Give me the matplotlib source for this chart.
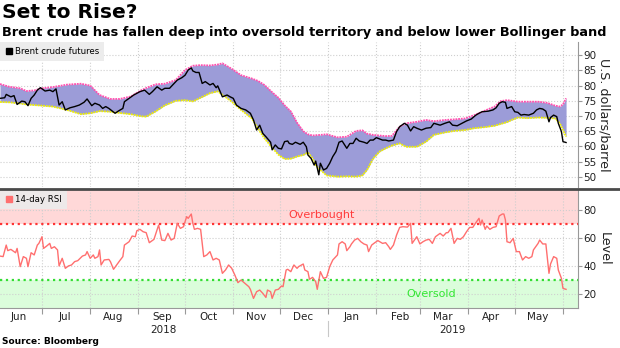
import matplotlib
matplotlib.use("Agg")
import matplotlib.pyplot as plt
import matplotlib.dates as mdates
import matplotlib.ticker as mticker
from matplotlib.lines import Line2D
import pandas as pd

# Brent crude futures (USD/bbl)
price_dates = [
    "2018-06-04", "2018-06-07", "2018-06-08", "2018-06-11", "2018-06-13", "2018-06-15", "2018-06-18",
    "2018-06-20", "2018-06-22", "2018-06-24", "2018-06-26", "2018-06-28", "2018-06-30", "2018-07-03",
    "2018-07-06", "2018-07-08", "2018-07-10", "2018-07-12", "2018-07-14", "2018-07-16", "2018-07-19",
    "2018-07-22", "2018-07-25", "2018-07-28", "2018-07-30", "2018-08-02", "2018-08-04", "2018-08-07",
    "2018-08-09", "2018-08-11", "2018-08-13", "2018-08-17", "2018-08-19", "2018-08-22", "2018-08-23",
    "2018-08-26", "2018-08-29", "2018-09-02", "2018-09-05", "2018-09-08", "2018-09-10", "2018-09-13",
    "2018-09-16", "2018-09-18", "2018-09-21", "2018-09-24", "2018-09-26", "2018-09-29", "2018-10-01",
    "2018-10-03", "2018-10-05", "2018-10-06", "2018-10-08", "2018-10-10", "2018-10-12", "2018-10-14",
    "2018-10-17", "2018-10-19", "2018-10-21", "2018-10-22", "2018-10-25", "2018-10-28", "2018-10-30",
    "2018-11-01", "2018-11-03", "2018-11-06", "2018-11-09", "2018-11-12", "2018-11-14", "2018-11-16",
    "2018-11-18", "2018-11-20", "2018-11-22", "2018-11-25", "2018-11-26", "2018-11-28", "2018-11-30",
    "2018-12-02", "2018-12-04", "2018-12-06", "2018-12-07", "2018-12-09", "2018-12-11", "2018-12-14",
    "2018-12-16", "2018-12-18", "2018-12-19", "2018-12-21", "2018-12-23", "2018-12-24", "2018-12-26",
    "2018-12-27", "2018-12-29", "2018-12-31", "2019-01-02", "2019-01-04", "2019-01-06", "2019-01-08",
    "2019-01-10", "2019-01-13", "2019-01-15", "2019-01-17", "2019-01-19", "2019-01-21", "2019-01-24",
    "2019-01-26", "2019-01-28", "2019-01-30", "2019-02-01", "2019-02-03", "2019-02-05", "2019-02-07",
    "2019-02-09", "2019-02-12", "2019-02-14", "2019-02-16", "2019-02-19", "2019-02-21", "2019-02-23",
    "2019-02-25", "2019-02-27", "2019-03-02", "2019-03-05", "2019-03-08", "2019-03-10", "2019-03-14",
    "2019-03-17", "2019-03-20", "2019-03-22", "2019-03-25", "2019-03-28", "2019-03-31", "2019-04-03",
    "2019-04-06", "2019-04-08", "2019-04-10", "2019-04-14", "2019-04-17", "2019-04-19", "2019-04-21",
    "2019-04-23", "2019-04-25", "2019-04-26", "2019-04-29", "2019-05-01", "2019-05-03", "2019-05-05",
    "2019-05-07", "2019-05-10", "2019-05-13", "2019-05-15", "2019-05-17", "2019-05-19", "2019-05-21",
    "2019-05-23", "2019-05-24", "2019-05-26", "2019-05-28", "2019-05-29", "2019-05-31", "2019-06-01",
    "2019-06-03",
]
price = [
    75.8, 76.0, 77.1, 76.3, 76.7, 73.8, 74.9, 74.7, 73.4, 75.8, 76.9, 78.5, 79.3, 78.2,
    78.5, 78.0, 78.9, 73.6, 74.7, 72.0, 72.7, 73.1, 73.6, 74.5, 75.6, 73.4, 74.2, 73.6,
    72.5, 73.1, 72.5, 70.9, 71.6, 72.5, 74.7, 75.8, 76.9, 78.0, 78.5, 77.1, 78.0, 79.6,
    78.5, 79.1, 79.1, 80.7, 81.8, 82.6, 83.4, 85.1, 85.8, 84.8, 84.3, 84.3, 80.7, 81.3,
    80.2, 80.7, 79.3, 79.9, 76.3, 76.9, 76.3, 75.8, 73.6, 72.5, 72.0, 70.9, 68.7, 65.4,
    67.0, 64.3, 63.2, 61.4, 58.9, 60.5, 59.4, 59.2, 61.6, 61.8, 61.0, 60.7, 61.4, 60.7,
    61.4, 59.9, 57.2, 56.1, 53.9, 55.2, 50.7, 54.5, 52.3, 52.8, 54.5, 56.7, 58.3, 61.4,
    61.8, 59.4, 61.0, 61.0, 62.7, 61.8, 61.4, 61.0, 62.1, 62.1, 62.9, 62.5, 62.1, 62.1,
    61.8, 62.1, 64.9, 66.5, 67.6, 67.0, 65.1, 66.5, 66.0, 65.4, 66.0, 66.2, 67.6, 67.0,
    67.6, 68.1, 67.0, 66.8, 67.6, 68.4, 69.0, 70.3, 70.9, 71.4, 71.6, 72.0, 72.7, 74.2,
    74.7, 74.5, 72.5, 73.1, 71.4, 71.2, 70.3, 70.5, 70.3, 70.9, 72.0, 72.5, 72.3, 71.6,
    68.1, 69.5, 70.3, 69.8, 67.6, 64.9, 61.6, 61.3,
]

# Bollinger bands
band_dates = [
    "2018-06-04", "2018-06-10", "2018-06-17", "2018-06-21", "2018-06-26", "2018-07-01", "2018-07-08",
    "2018-07-17", "2018-07-26", "2018-08-01", "2018-08-07", "2018-08-14", "2018-08-20", "2018-08-27",
    "2018-09-03", "2018-09-06", "2018-09-12", "2018-09-18", "2018-09-25", "2018-10-01", "2018-10-06",
    "2018-10-11", "2018-10-17", "2018-10-22", "2018-10-25", "2018-10-31", "2018-11-06", "2018-11-13",
    "2018-11-17", "2018-11-21", "2018-11-26", "2018-11-30", "2018-12-04", "2018-12-08", "2018-12-12",
    "2018-12-16", "2018-12-19", "2018-12-22", "2018-12-24", "2018-12-27", "2018-12-31", "2019-01-07",
    "2019-01-13", "2019-01-19", "2019-01-23", "2019-01-26", "2019-01-30", "2019-02-03", "2019-02-07",
    "2019-02-11", "2019-02-16", "2019-02-20", "2019-02-27", "2019-03-05", "2019-03-10", "2019-03-17",
    "2019-03-23", "2019-03-30", "2019-04-05", "2019-04-11", "2019-04-18", "2019-04-22", "2019-04-26",
    "2019-04-29", "2019-05-03", "2019-05-09", "2019-05-16", "2019-05-22", "2019-05-27", "2019-05-30",
    "2019-06-01", "2019-06-03",
]
upper_band = [
    80.5, 79.6, 79.1, 78.2, 78.4, 79.1, 79.5, 80.3, 80.6, 80.0, 76.9, 75.6, 75.6, 76.4,
    78.5, 79.2, 80.4, 80.6, 81.8, 85.1, 86.5, 86.7, 86.6, 86.9, 87.3, 85.5, 83.4, 82.3,
    81.5, 80.2, 77.8, 76.0, 73.5, 71.5, 67.8, 65.0, 64.0, 63.6, 63.7, 63.8, 64.0, 63.0,
    63.2, 65.1, 65.3, 64.2, 63.8, 63.6, 63.4, 63.5, 66.5, 67.6, 68.1, 68.7, 68.3, 68.7,
    68.9, 69.2, 70.3, 71.6, 73.1, 74.9, 75.2, 75.0, 74.7, 74.7, 74.7, 74.3, 73.4, 73.1,
    73.8, 75.8,
]
lower_band = [
    74.6, 74.5, 74.1, 73.8, 73.6, 73.4, 73.1, 72.0, 70.6, 70.9, 71.6, 71.4, 71.0, 70.6,
    69.9, 69.8, 71.5, 73.5, 75.0, 75.2, 74.8, 76.0, 77.5, 78.1, 77.0, 74.7, 72.0, 69.2,
    65.8, 62.7, 59.6, 57.3, 55.9, 56.0, 56.7, 57.2, 58.0, 56.1, 53.8, 52.3, 50.5, 50.1,
    50.2, 50.1, 50.5, 52.3, 56.1, 58.3, 59.4, 60.3, 61.0, 59.9, 59.9, 61.6, 63.8, 64.6,
    65.1, 65.4, 66.0, 66.3, 66.8, 67.4, 68.0, 68.7, 69.5, 69.3, 69.5, 69.4, 69.2, 67.6,
    65.4, 63.2,
]

# 14-day RSI
rsi_dates = [
    "2018-06-04", "2018-06-06", "2018-06-08", "2018-06-09", "2018-06-11", "2018-06-14", "2018-06-15",
    "2018-06-17", "2018-06-19", "2018-06-21", "2018-06-22", "2018-06-24", "2018-06-26", "2018-06-28",
    "2018-06-29", "2018-07-01", "2018-07-02", "2018-07-04", "2018-07-06", "2018-07-07", "2018-07-09",
    "2018-07-11", "2018-07-12", "2018-07-14", "2018-07-16", "2018-07-18", "2018-07-20", "2018-07-22",
    "2018-07-24", "2018-07-27", "2018-07-29", "2018-07-30", "2018-08-01", "2018-08-03", "2018-08-04",
    "2018-08-06", "2018-08-07", "2018-08-08", "2018-08-10", "2018-08-13", "2018-08-14", "2018-08-16",
    "2018-08-18", "2018-08-20", "2018-08-22", "2018-08-23", "2018-08-26", "2018-08-28", "2018-08-30",
    "2018-08-31", "2018-09-02", "2018-09-04", "2018-09-06", "2018-09-08", "2018-09-11", "2018-09-13",
    "2018-09-14", "2018-09-16", "2018-09-18", "2018-09-20", "2018-09-22", "2018-09-24", "2018-09-26",
    "2018-09-28", "2018-09-30", "2018-10-02", "2018-10-03", "2018-10-05", "2018-10-06", "2018-10-07",
    "2018-10-09", "2018-10-11", "2018-10-13", "2018-10-15", "2018-10-17", "2018-10-19", "2018-10-21",
    "2018-10-23", "2018-10-25", "2018-10-27", "2018-10-29", "2018-10-31", "2018-11-02", "2018-11-04",
    "2018-11-06", "2018-11-09", "2018-11-11", "2018-11-12", "2018-11-14", "2018-11-16", "2018-11-18",
    "2018-11-20", "2018-11-22", "2018-11-23", "2018-11-25", "2018-11-26", "2018-11-28", "2018-11-30",
    "2018-12-02", "2018-12-03", "2018-12-05", "2018-12-06", "2018-12-08", "2018-12-10", "2018-12-12",
    "2018-12-13", "2018-12-16", "2018-12-17", "2018-12-19", "2018-12-20", "2018-12-22", "2018-12-24",
    "2018-12-25", "2018-12-27", "2018-12-29", "2018-12-31", "2019-01-02", "2019-01-04", "2019-01-07",
    "2019-01-08", "2019-01-10", "2019-01-12", "2019-01-13", "2019-01-15", "2019-01-16", "2019-01-18",
    "2019-01-20", "2019-01-22", "2019-01-24", "2019-01-26", "2019-01-27", "2019-01-29", "2019-01-31",
    "2019-02-02", "2019-02-05", "2019-02-07", "2019-02-09", "2019-02-10", "2019-02-12", "2019-02-14",
    "2019-02-16", "2019-02-18", "2019-02-21", "2019-02-23", "2019-02-24", "2019-02-27", "2019-03-01",
    "2019-03-03", "2019-03-05", "2019-03-07", "2019-03-09", "2019-03-11", "2019-03-14", "2019-03-16",
    "2019-03-18", "2019-03-19", "2019-03-21", "2019-03-23", "2019-03-25", "2019-03-27", "2019-03-29",
    "2019-03-31", "2019-04-02", "2019-04-04", "2019-04-06", "2019-04-08", "2019-04-09", "2019-04-10",
    "2019-04-12", "2019-04-13", "2019-04-15", "2019-04-17", "2019-04-19", "2019-04-21", "2019-04-23",
    "2019-04-24", "2019-04-25", "2019-04-26", "2019-04-28", "2019-04-30", "2019-05-02", "2019-05-04",
    "2019-05-06", "2019-05-08", "2019-05-10", "2019-05-12", "2019-05-13", "2019-05-16", "2019-05-17",
    "2019-05-19", "2019-05-21", "2019-05-23", "2019-05-24", "2019-05-26", "2019-05-28", "2019-05-29",
    "2019-05-31", "2019-06-01", "2019-06-03",
]
rsi = [
    47.2, 46.8, 55.1, 51.1, 52.0, 49.6, 52.7, 39.6, 46.8, 45.6, 39.6, 49.6, 48.0, 55.1,
    56.3, 61.1, 52.7, 54.4, 56.3, 52.7, 53.9, 51.6, 40.1, 45.6, 38.4, 40.1, 40.8, 43.2,
    43.9, 47.2, 48.0, 50.4, 45.6, 48.0, 45.6, 46.8, 51.6, 40.8, 44.4, 44.8, 43.2, 37.7,
    40.8, 43.9, 46.8, 55.1, 57.5, 61.6, 61.1, 65.4, 66.4, 64.7, 64.0, 56.8, 59.2, 65.9,
    69.5, 58.7, 58.3, 63.5, 58.7, 59.9, 70.7, 67.1, 68.3, 75.5, 74.3, 77.4, 70.7, 66.4,
    67.1, 66.4, 46.8, 48.0, 50.4, 44.4, 45.6, 44.4, 34.8, 37.2, 40.8, 38.4, 33.6, 28.1,
    30.0, 27.1, 25.2, 23.3, 16.8, 21.6, 22.8, 20.4, 17.5, 22.8, 21.6, 16.8, 22.8, 23.3,
    25.7, 25.2, 37.2, 37.7, 36.0, 40.8, 38.4, 39.6, 41.5, 37.2, 36.0, 30.5, 31.9, 28.8,
    23.3, 36.0, 31.2, 31.9, 39.6, 44.4, 48.0, 55.9, 57.5, 55.9, 51.1, 53.9, 55.9, 58.7,
    59.9, 57.5, 55.9, 55.1, 50.4, 55.1, 56.8, 58.3, 56.3, 56.8, 53.9, 52.0, 55.1, 62.3,
    67.8, 68.3, 68.0, 70.7, 56.3, 61.1, 55.9, 57.5, 58.7, 59.2, 56.3, 61.1, 63.5, 61.6,
    64.0, 64.0, 67.1, 56.3, 59.9, 59.2, 61.1, 64.7, 67.8, 67.8, 71.2, 74.3, 69.5, 73.1,
    66.4, 68.8, 66.4, 67.8, 68.3, 76.0, 77.4, 77.4, 73.1, 57.5, 56.8, 59.9, 50.4, 50.4,
    44.4, 46.8, 45.6, 46.8, 51.6, 56.3, 58.7, 55.9, 55.9, 34.8, 41.5, 46.8, 45.6, 37.2,
    31.2, 24.0, 23.3,
]

overbought, oversold = 70, 30

price_d = pd.to_datetime(price_dates)
band_d = pd.to_datetime(band_dates)
rsi_d = pd.to_datetime(rsi_dates)

plt.rcParams['font.family'] = ['DejaVu Sans']

W, H = 620, 348
fig = plt.figure(figsize=(W / 100, H / 100), dpi=100)


def box(l, t, r, b):
    return [l / W, 1 - b / H, (r - l) / W, (b - t) / H]


ax1 = fig.add_axes(box(0, 42, 578, 187))
ax2 = fig.add_axes(box(0, 190, 578, 308), sharex=ax1)

grid_kw = dict(ls=':', color='#cfcfcf', lw=0.8)
tick_col = '#999999'
lab_col = '#222222'

# --- top panel: price + Bollinger bands
ax1.fill_between(band_d, lower_band, upper_band, color='#9c9cd8', lw=0, zorder=2)
ax1.plot(band_d, upper_band, color='#ff4fae', lw=1.3, ls=(0, (1, 0.5)), zorder=3)
ax1.plot(band_d, lower_band, color='#f2f200', lw=1.3, ls=(0, (1, 0.5)), zorder=3)
ax1.plot(price_d, price, color='black', lw=1.0, zorder=4)
ax1.set_ylim(46.7, 94.3)
ax1.set_yticks(range(50, 95, 5))
ax1.yaxis.tick_right()
ax1.yaxis.set_label_position('right')
ax1.set_ylabel('U.S. dollars/barrel', rotation=270, fontsize=9.1, color=lab_col, labelpad=10)
ax1.grid(True, **grid_kw)
ax1.set_axisbelow(True)
for s in ['top', 'left', 'bottom']:
    ax1.spines[s].set_visible(False)
ax1.spines['right'].set_color(tick_col)
ax1.tick_params(axis='y', direction='out', length=3, color=tick_col, labelsize=7.5,
                labelcolor=lab_col, pad=1)
ax1.tick_params(axis='x', which='both', bottom=False, labelbottom=False)
ax1.legend(handles=[Line2D([], [], marker='s', ls='', color='black', markersize=4.5)],
           labels=['Brent crude futures'], loc='upper left', bbox_to_anchor=(0, 1),
           borderaxespad=0, fontsize=6.2, facecolor='#ececec', edgecolor='none',
           framealpha=1, fancybox=False, handletextpad=0.1, handlelength=1, borderpad=0.6)

# --- bottom panel: RSI
ax2.axhspan(overbought, 100, color='#ffd8d8', lw=0, zorder=0)
ax2.axhspan(0, oversold, color='#dbfddb', lw=0, zorder=0)
ax2.axhline(overbought, color='#ff3333', ls=':', lw=1.6, zorder=2)
ax2.axhline(oversold, color='#33dd33', ls=':', lw=1.6, zorder=2)
ax2.plot(rsi_d, rsi, color='#ff6f6f', lw=1.0, zorder=3)
ax2.text(pd.Timestamp('2018-12-28'), 76.5, 'Overbought', color='#ff3b3b', fontsize=8,
         ha='center', va='center')
ax2.text(pd.Timestamp('2019-03-08'), 20, 'Oversold', color='#33e633', fontsize=8,
         ha='center', va='center')
ax2.set_ylim(9.9, 94.65)
ax2.set_yticks([20, 40, 60, 80])
ax2.yaxis.tick_right()
ax2.yaxis.set_label_position('right')
ax2.set_ylabel('Level', rotation=270, fontsize=9.1, color=lab_col, labelpad=10)
ax2.grid(True, **grid_kw)
ax2.set_axisbelow(True)
for s in ['top', 'left']:
    ax2.spines[s].set_visible(False)
ax2.spines['right'].set_color(tick_col)
ax2.spines['bottom'].set_color(tick_col)
ax2.tick_params(axis='y', direction='out', length=3, color=tick_col, labelsize=7.5,
                labelcolor=lab_col, pad=1)
ax2.legend(handles=[Line2D([], [], marker='s', ls='', color='#ff6f6f', markersize=4.5)],
           labels=['14-day RSI'], loc='upper left', bbox_to_anchor=(0, 1),
           borderaxespad=0, fontsize=6.2, facecolor='#ececec', edgecolor='none',
           framealpha=0.9, fancybox=False, handletextpad=0.1, handlelength=1, borderpad=0.6)

ax2.xaxis.set_major_locator(mdates.MonthLocator())
ax2.xaxis.set_major_formatter(mticker.NullFormatter())
ax2.xaxis.set_minor_locator(mdates.MonthLocator(bymonthday=16))
ax2.xaxis.set_minor_formatter(mdates.DateFormatter('%b'))
ax2.tick_params(axis='x', which='major', direction='out', length=4, color=tick_col)
ax2.tick_params(axis='x', which='minor', length=0, labelsize=7.5, labelcolor=lab_col, pad=3)
ax2.set_xlim(pd.Timestamp('2018-06-04'), pd.Timestamp('2019-06-10 16:00'))

xt = ax2.get_xaxis_transform()
ax2.text(pd.Timestamp('2018-09-17'), -0.185, '2018', transform=xt, fontsize=7.5,
         color=lab_col, ha='center', va='center')
ax2.text(pd.Timestamp('2019-03-22'), -0.185, '2019', transform=xt, fontsize=7.5,
         color=lab_col, ha='center', va='center')
ax2.plot([pd.Timestamp('2019-01-01')] * 2, [-0.11, -0.24], transform=xt, clip_on=False,
         color='#c8c8c8', lw=0.8)

# separator between the panels
fig.add_artist(Line2D([0, 1], [1 - 188.5 / H] * 2, transform=fig.transFigure,
                      color='#4a4a4a', lw=2))

fig.text(2 / W, 1 - 13 / H, 'Set to Rise?', fontsize=14.5, weight='bold', va='center')
fig.text(2 / W, 1 - 32.5 / H,
         'Brent crude has fallen deep into oversold territory and below lower Bollinger band',
         fontsize=9.3, weight='bold', va='center')
fig.text(2 / W, 1 - 342 / H, 'Source: Bloomberg', fontsize=6.5, weight='bold', va='center')

fig.savefig('out.png', dpi=100)
